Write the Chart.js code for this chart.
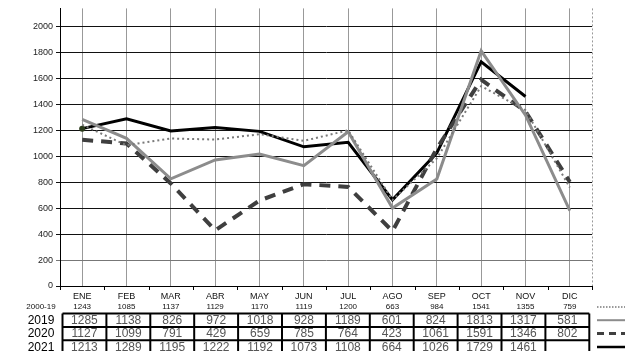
<!DOCTYPE html>
<html><head><meta charset="utf-8">
<script src="https://cdn.jsdelivr.net/npm/chart.js@4/dist/chart.umd.min.js"></script>
<style>html,body{margin:0;padding:0;background:#fff}#wrap{width:639px;height:351px}</style>
</head><body><div id="wrap"><canvas id="c" width="639" height="351"></canvas></div>
<script>
const months = ['ENE','FEB','MAR','ABR','MAY','JUN','JUL','AGO','SEP','OCT','NOV','DIC'];
const avg2000_19 = [1243,1085,1137,1129,1170,1119,1200,663,984,1541,1355,759];
const y2019 = [1285,1138,826,972,1018,928,1189,601,824,1813,1317,581];
const y2020 = [1127,1099,791,429,659,785,764,423,1061,1591,1346,802];
const y2021 = [1213,1289,1195,1222,1192,1073,1108,664,1026,1729,1461,null];
const rowLabels = ['2000-19','2019','2020','2021'];
const tableRows = [y2019, y2020, y2021];

const FONT = '"Liberation Sans", Arial, sans-serif';

const tablePlugin = {
  id: 'tablePlugin',
  afterDraw(chart) {
    const ctx = chart.ctx, xs = chart.scales.x, area = chart.chartArea;
    const step = xs.getPixelForTick(1) - xs.getPixelForTick(0);
    ctx.save();
    // right dotted border
    ctx.strokeStyle = '#999'; ctx.lineWidth = 1; ctx.setLineDash([2,2]);
    ctx.beginPath(); ctx.moveTo(Math.round(area.right)+0.5, area.top); ctx.lineTo(Math.round(area.right)+0.5, area.bottom); ctx.stroke();
    ctx.setLineDash([]);
    // boundary tick marks
    ctx.strokeStyle = '#000';
    for (let i = 0; i <= months.length; i++) {
      const px = Math.round(xs.getPixelForTick(0) - step/2 + i*step) + 0.5;
      ctx.beginPath(); ctx.moveTo(px, area.bottom); ctx.lineTo(px, area.bottom + 4); ctx.stroke();
    }
    // month labels + average values
    ctx.textAlign = 'center'; ctx.textBaseline = 'middle'; ctx.fillStyle = '#111';
    months.forEach((m, i) => {
      const px = xs.getPixelForTick(i);
      ctx.font = '9px ' + FONT; ctx.fillText(m, px, area.bottom + 11);
      ctx.font = '8px ' + FONT; ctx.fillText(String(avg2000_19[i]), px, area.bottom + 21);
    });
    ctx.font = '8px ' + FONT; ctx.fillStyle = '#111';
    ctx.fillText(rowLabels[0], 41, area.bottom + 21);
    // table
    const left = xs.left + 2.5, right = xs.right - 2.7;
    const cw = (right - left) / months.length;
    const top = area.bottom + 27.5, rh = 13.4;
    ctx.strokeStyle = '#000'; ctx.lineWidth = 2;
    for (let r = 0; r <= tableRows.length; r++) {
      ctx.beginPath(); ctx.moveTo(left, top + r*rh); ctx.lineTo(right, top + r*rh); ctx.stroke();
    }
    for (let c = 0; c <= months.length; c++) {
      ctx.beginPath(); ctx.moveTo(left + c*cw, top); ctx.lineTo(left + c*cw, top + tableRows.length*rh); ctx.stroke();
    }
    tableRows.forEach((row, r) => {
      const cy = top + r*rh + rh/2 + 0.5;
      ctx.font = '12px ' + FONT; ctx.fillStyle = '#000';
      ctx.fillText(rowLabels[r+1], 41, cy);
      ctx.fillStyle = '#555';
      row.forEach((v, c) => {
        if (v !== null) ctx.fillText(String(v), left + c*cw + cw/2, cy);
      });
    });
    // legend samples
    const lx0 = 597, lx1 = 625;
    const ly = [area.bottom + 21, top + rh/2, top + rh*1.5, top + rh*2.5];
    const lw = [1.5, 2, 3, 2.5];
    const ldash = [[1.5,1.5], [], [7,5], []];
    chart.data.datasets.forEach((ds, i) => {
      ctx.strokeStyle = ds.borderColor; ctx.lineWidth = lw[i];
      ctx.setLineDash(ldash[i]);
      ctx.beginPath(); ctx.moveTo(lx0, ly[i]); ctx.lineTo(lx1, ly[i]); ctx.stroke();
    });
    ctx.restore();
  }
};

new Chart(document.getElementById('c'), {
  type: 'line',
  data: {
    labels: months,
    datasets: [
      { label: '2000-19', data: avg2000_19, borderColor: '#7a7a7a', borderWidth: 2, borderDash: [2,3], pointRadius: 0, tension: 0 },
      { label: '2019', data: y2019, borderColor: '#8c8c8c', borderWidth: 3, pointRadius: 0, tension: 0 },
      { label: '2020', data: y2020, borderColor: '#3f3f3f', borderWidth: 4, borderDash: [11,8], pointRadius: 0, tension: 0 },
      { label: '2021', data: y2021, borderColor: '#000', borderWidth: 3,
        pointRadius: y2021.map((v,i) => i === 0 ? 3 : 0), pointBackgroundColor: '#2a3a1a', pointBorderWidth: 0, tension: 0 }
    ]
  },
  options: {
    responsive: false, animation: false, devicePixelRatio: 1,
    layout: { padding: { left: 0, right: 47, top: 0, bottom: 0 } },
    plugins: { legend: { display: false }, tooltip: { enabled: false } },
    scales: {
      x: {
        offset: true,
        grid: { display: true, offset: false, color: '#999', lineWidth: 1, drawTicks: false },
        border: { display: true, color: '#000', width: 1 },
        ticks: { display: false },
        afterFit(s) { s.height = 65; }
      },
      y: {
        min: 0, max: 2140,
        ticks: { stepSize: 200, font: { size: 9, family: FONT }, color: '#222', padding: 3, callback: v => String(v) },
        afterBuildTicks(s) { s.ticks = s.ticks.filter(t => t.value % 200 === 0); },
        grid: { color: c => (c.tick && c.tick.value === 200) ? '#777' : '#111', lineWidth: 1, drawTicks: true, tickLength: 4 },
        border: { display: true, color: '#000', width: 1 },
        afterFit(s) { s.width = 60; }
      }
    }
  },
  plugins: [tablePlugin]
});
</script>
</body></html>
